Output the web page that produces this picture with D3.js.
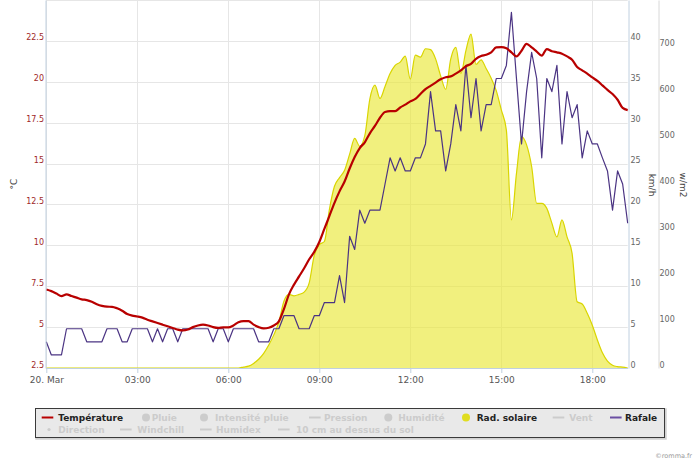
<!DOCTYPE html>
<html>
<head>
<meta charset="utf-8">
<script src="https://cdn.jsdelivr.net/npm/d3@7"></script>
<style>
	body { margin: 0; background: #fff; }
	svg { display: block; font-family: "DejaVu Sans", Verdana, sans-serif; }
</style>
</head>
<body>
<div id="chart"></div>
<script>
"use strict";

// Station readings every 10 minutes, 20 March 00:00 -> 19:10
var startTime = new Date(2014, 2, 20, 0, 0);
var stepMinutes = 10;

var temperature = [
	7.3, 7.2, 7.05, 6.9, 7.0, 6.9, 6.8, 6.7, 6.65, 6.55,
	6.4, 6.3, 6.25, 6.24, 6.15, 6.0, 5.8, 5.7, 5.65, 5.58,
	5.45, 5.35, 5.25, 5.15, 5.05, 4.95, 4.85, 4.8, 4.85, 5.0,
	5.1, 5.15, 5.1, 5.0, 4.95, 4.98, 4.98, 5.1, 5.3, 5.37,
	5.37, 5.15, 5.0, 4.92, 4.96, 5.1, 5.35, 6.1, 7.0, 7.6,
	8.1, 8.6, 9.15, 9.6, 10.2, 11.0, 11.8, 12.6, 13.3, 13.9,
	14.7, 15.4, 15.95, 16.3, 16.85, 17.3, 17.8, 18.15, 18.2, 18.2,
	18.43, 18.6, 18.8, 18.95, 19.25, 19.55, 19.75, 19.95, 20.15, 20.28,
	20.33, 20.5, 20.7, 20.95, 21.1, 21.4, 21.57, 21.65, 21.8, 22.1,
	22.12, 22.05, 21.8, 21.55, 21.9, 22.32, 22.1, 21.85, 21.6, 22.0,
	21.87, 21.8, 21.72, 21.55, 21.35, 20.9, 20.7, 20.5, 20.27, 20.05,
	19.78, 19.5, 19.25, 18.9, 18.4, 18.27
];

var gust = [
	3.2, 1.6, 1.6, 1.6, 4.8, 4.8, 4.8, 4.8, 3.2, 3.2,
	3.2, 3.2, 4.8, 4.8, 4.8, 3.2, 3.2, 4.8, 4.8, 4.8,
	4.8, 3.2, 4.8, 3.2, 4.8, 4.8, 3.2, 4.8, 4.8, 4.8,
	4.8, 4.8, 4.8, 3.2, 4.8, 4.8, 3.2, 4.8, 4.8, 4.8,
	4.8, 4.8, 3.2, 3.2, 3.2, 4.8, 4.8, 6.4, 6.4, 6.4,
	4.8, 4.8, 4.8, 6.4, 6.4, 8.0, 8.0, 8.0, 11.3, 8.0,
	16.1, 14.5, 19.3, 17.7, 19.3, 19.3, 19.3, 22.5, 25.7, 24.1,
	25.7, 24.1, 24.1, 25.7, 25.7, 27.4, 33.8, 29.0, 29.0, 24.1,
	27.4, 32.2, 29.0, 37.0, 30.6, 35.4, 29.0, 32.2, 32.2, 35.4,
	35.4, 37.0, 43.5, 35.4, 27.4, 33.8, 38.6, 35.4, 25.7, 35.4,
	33.8, 37.0, 27.4, 33.8, 30.6, 32.2, 25.7, 29.0, 27.4, 27.4,
	25.7, 24.1, 19.3, 24.1, 22.5, 17.7
];

var radiation = [
	0, 0, 0, 0, 0, 0, 0, 0, 0, 0,
	0, 0, 0, 0, 0, 0, 0, 0, 0, 0,
	0, 0, 0, 0, 0, 0, 0, 0, 0, 0,
	0, 0, 0, 0, 0, 0, 0, 0, 0, 2,
	4, 10, 19, 32, 50, 72, 100, 145, 160, 157,
	160, 165, 185, 245, 268, 275, 345, 395, 414, 430,
	465, 499, 482, 505, 585, 615, 586, 612, 640, 658,
	665, 678, 628, 680, 676, 694, 692, 672, 635, 606,
	672, 697, 640, 690, 726, 660, 670, 651, 630, 603,
	561, 517, 322, 423, 503, 485, 438, 358, 358, 347,
	315, 285, 322, 285, 249, 144, 139, 119, 93, 61,
	33, 15, 6, 3, 2, 0
];

var tempTicks = [2.5, 5, 7.5, 10, 12.5, 15, 17.5, 20, 22.5];
var windTicks = [0, 5, 10, 15, 20, 25, 30, 35, 40];
var radTicks = [0, 100, 200, 300, 400, 500, 600, 700];

var legendNames = [
	"Température", "Pluie", "Intensité pluie", "Pression", "Humidité", "Rad. solaire", "Vent", "Rafale",
	"Direction", "Windchill", "Humidex", "10 cm au dessus du sol"
];
var legendSymbols = ["line", "circle", "circle", "line", "circle", "circle", "line", "line", "dot", "line", "line", "line"];
var legendShown = [true, false, false, false, false, true, false, true, false, false, false, false];

// ---- layout ----
var width = 700, height = 462;
var plot = { left: 46.3, right: 627.7, top: 0, bottom: 368 };
var colTemp = "#b80000", colGust = "#4b3483", colRad = "#e0dd20";
var hiddenCol = "#cccccc";

// legend slots: [row, symbol x, text x]
var legendSlots = [
	[0, 41.7, 58.3], [0, 146, 151.7], [0, 204, 215], [0, 309, 324],
	[0, 388.3, 398.3], [0, 466, 476.7], [0, 552.7, 569.3], [0, 610, 625],
	[1, 49, 58.3], [1, 120, 137.3], [1, 200, 216], [1, 278, 296]
];

var times = temperature.map(function(d, i) {
	return d3.timeMinute.offset(startTime, i * stepMinutes);
});

var x = d3.scaleTime()
	.domain([times[0], times[times.length - 1]])
	.range([plot.left, plot.right]);
var yT = d3.scaleLinear().domain([2.5, 25]).range([plot.bottom, plot.top]);
var yW = d3.scaleLinear().domain([0, 45]).range([plot.bottom, plot.top]);
var yR = d3.scaleLinear().domain([0, 800]).range([plot.bottom, plot.top]);

var svg = d3.select("#chart").append("svg")
	.attr("width", width)
	.attr("height", height);

// grid
var gridY = tempTicks.concat([25]);
svg.append("g").selectAll("line").data(gridY).join("line")
	.attr("x1", plot.left).attr("x2", plot.right)
	.attr("y1", function(d) { return Math.round(yT(d)) + 0.5; })
	.attr("y2", function(d) { return Math.round(yT(d)) + 0.5; })
	.attr("stroke", "#e6e6e6");

var xTicks = x.ticks(d3.timeHour.every(3));
svg.append("g").selectAll("line").data(xTicks).join("line")
	.attr("x1", function(d) { return Math.round(x(d)) + 0.5; })
	.attr("x2", function(d) { return Math.round(x(d)) + 0.5; })
	.attr("y1", plot.top).attr("y2", plot.bottom)
	.attr("stroke", "#e6e6e6");

// solar radiation area
var radArea = d3.area()
	.x(function(d, i) { return x(times[i]); })
	.y0(yR(0))
	.y1(function(d) { return yR(d); })
	.curve(d3.curveMonotoneX);
var radLine = d3.line()
	.x(function(d, i) { return x(times[i]); })
	.y(function(d) { return yR(d); })
	.curve(d3.curveMonotoneX);

svg.append("path").datum(radiation)
	.attr("d", radArea)
	.attr("fill", "#e9e62e")
	.attr("fill-opacity", 0.62);
svg.append("path").datum(radiation)
	.attr("d", radLine)
	.attr("fill", "none")
	.attr("stroke", "#d9d500")
	.attr("stroke-width", 1.2);

// gust
var gustLine = d3.line()
	.x(function(d, i) { return x(times[i]); })
	.y(function(d) { return yW(d); });
svg.append("path").datum(gust)
	.attr("d", gustLine)
	.attr("fill", "none")
	.attr("stroke", colGust)
	.attr("stroke-width", 1.2)
	.attr("stroke-linejoin", "round");

// temperature
var tempLine = d3.line()
	.x(function(d, i) { return x(times[i]); })
	.y(function(d) { return yT(d); })
	.curve(d3.curveMonotoneX);
svg.append("path").datum(temperature)
	.attr("d", tempLine)
	.attr("fill", "none")
	.attr("stroke", colTemp)
	.attr("stroke-width", 2.2)
	.attr("stroke-linejoin", "round");

// axes
function styleAxis(g, color, size) {
	g.selectAll("text")
		.attr("fill", color)
		.style("font-size", size + "px")
		.style("font-family", "DejaVu Sans, Verdana, sans-serif");
}
function plain(d) { return String(d); }

var fmtTime = d3.timeFormat("%H:%M");
var xAxis = svg.append("g")
	.attr("transform", "translate(0," + plot.bottom + ")")
	.call(d3.axisBottom(x)
		.tickValues(xTicks)
		.tickSize(5)
		.tickSizeOuter(0)
		.tickPadding(4)
		.tickFormat(function(d) { return d.getHours() === 0 ? "20. Mar" : fmtTime(d); }));
xAxis.select(".domain").attr("stroke", "#c0d0e0");
xAxis.selectAll(".tick line").attr("stroke", "#c0d0e0");
styleAxis(xAxis, "#555", 9);

var leftAxis = svg.append("g")
	.attr("transform", "translate(45.5,0)")
	.call(d3.axisLeft(yT).tickValues(tempTicks).tickFormat(plain).tickSize(0).tickSizeOuter(0).tickPadding(1.5));
leftAxis.select(".domain").attr("stroke", "#c0d0e0");
leftAxis.selectAll("text").attr("dy", "-0.12em");
styleAxis(leftAxis, "#a02828", 8);

var windAxis = svg.append("g")
	.attr("transform", "translate(628.5,0)")
	.call(d3.axisRight(yW).tickValues(windTicks).tickFormat(plain).tickSize(0).tickSizeOuter(0).tickPadding(2));
windAxis.select(".domain").attr("stroke", "#c0d0e0");
windAxis.selectAll("text").attr("dy", "-0.12em");
styleAxis(windAxis, "#666", 8);

var radAxis = svg.append("g")
	.attr("transform", "translate(658.5,0)")
	.call(d3.axisRight(yR).tickValues(radTicks).tickFormat(plain).tickSize(0).tickSizeOuter(0).tickPadding(1));
radAxis.select(".domain").attr("stroke", "#d8d8d8");
radAxis.selectAll("text").attr("dy", "-0.12em");
styleAxis(radAxis, "#666", 8);

// axis titles
function axisTitle(label, tx, ty, angle) {
	svg.append("text")
		.attr("transform", "translate(" + tx + "," + ty + ") rotate(" + angle + ")")
		.attr("text-anchor", "middle")
		.attr("dy", "0.35em")
		.style("font-size", "9px")
		.attr("fill", "#444")
		.text(label);
}
axisTitle("°C", 14, 184, -90);
axisTitle("km/h", 652, 185, 90);
axisTitle("w/m2", 683, 185, 90);

// legend
svg.append("rect")
	.attr("x", 36.5).attr("y", 409.5)
	.attr("width", 629).attr("height", 29)
	.attr("fill", "none")
	.attr("stroke", "rgba(0,0,0,0.18)")
	.attr("stroke-width", 2.5);
svg.append("rect")
	.attr("x", 35.5).attr("y", 408.5)
	.attr("width", 629).attr("height", 29)
	.attr("fill", "#e9e9e9")
	.attr("stroke", "#3a3a3a")
	.attr("stroke-width", 1);

var legendColors = [colTemp, hiddenCol, hiddenCol, hiddenCol, hiddenCol, colRad, hiddenCol, "#6b4fa3",
	hiddenCol, hiddenCol, hiddenCol, hiddenCol];
var rowY = [417.5, 429.5];

legendNames.forEach(function(name, i) {
	var slot = legendSlots[i];
	var cy = rowY[slot[0]];
	var col = legendColors[i];
	var g = svg.append("g");
	if (legendSymbols[i] === "line") {
		g.append("line")
			.attr("x1", slot[1]).attr("x2", slot[1] + 11.6)
			.attr("y1", cy).attr("y2", cy)
			.attr("stroke", col)
			.attr("stroke-width", 2);
	} else if (legendSymbols[i] === "circle") {
		g.append("circle")
			.attr("cx", slot[1]).attr("cy", cy)
			.attr("r", 4)
			.attr("fill", col);
	} else {
		g.append("circle")
			.attr("cx", slot[1]).attr("cy", cy)
			.attr("r", 1.6)
			.attr("fill", col);
	}
	g.append("text")
		.attr("x", slot[2]).attr("y", cy)
		.attr("dy", "0.35em")
		.style("font-size", "9px")
		.style("font-weight", "bold")
		.attr("fill", legendShown[i] ? "#222" : hiddenCol)
		.text(name);
});

svg.append("text")
	.attr("x", 692).attr("y", 458)
	.attr("text-anchor", "end")
	.style("font-size", "6.5px")
	.attr("fill", "#999")
	.text("©romma.fr");
</script>
</body>
</html>
